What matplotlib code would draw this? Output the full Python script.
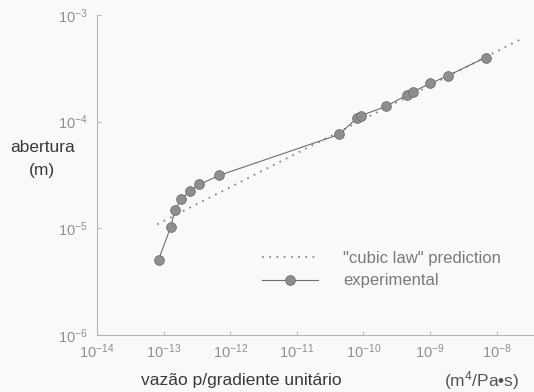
import matplotlib
matplotlib.use("Agg")
import matplotlib.pyplot as plt
from matplotlib.ticker import FixedLocator, NullLocator

plt.rcParams["font.family"] = ["Liberation Sans", "DejaVu Sans"]
plt.rcParams["mathtext.fontset"] = "custom"
plt.rcParams["mathtext.rm"] = "Liberation Sans"
plt.rcParams["mathtext.it"] = "Liberation Sans"

# experimental points (flow per unit gradient, aperture)
exp_flow = [8.4e-14, 1.28e-13, 1.47e-13, 1.83e-13, 2.48e-13, 3.45e-13, 6.8e-13,
            4.35e-11, 7.9e-11, 9.2e-11, 2.19e-10, 4.48e-10, 5.5e-10, 1.01e-9,
            1.83e-9, 6.8e-9]
exp_aperture = [5.1e-6, 1.03e-5, 1.47e-5, 1.87e-5, 2.25e-5, 2.58e-5, 3.13e-5,
                7.6e-5, 1.08e-4, 1.14e-4, 1.39e-4, 1.78e-4, 1.91e-4, 2.28e-4,
                2.69e-4, 3.99e-4]

# cubic law prediction endpoints
cubic_flow = [8.0e-14, 2.38e-8]
cubic_aperture = [1.09e-5, 6.0e-4]

x_ticks = [1e-14, 1e-13, 1e-12, 1e-11, 1e-10, 1e-9, 1e-8]
x_labels = [r"$10^{-14}$", r"$10^{-13}$", r"$10^{-12}$", r"$10^{-11}$",
            r"$10^{-10}$", r"$10^{-9}$", r"$10^{-8}$"]
y_ticks = [1e-6, 1e-5, 1e-4, 1e-3]
y_labels = [r"$10^{-6}$", r"$10^{-5}$", r"$10^{-4}$", r"$10^{-3}$"]

W, H = 534, 392
fig = plt.figure(figsize=(W / 100, H / 100), dpi=100)
fig.patch.set_facecolor("#f9f9f8")
ax = fig.add_axes([97 / W, 1 - 335 / H, 1 - 97 / W, 320 / H])
ax.set_facecolor("#f9f9f8")

ax.set_xscale("log")
ax.set_yscale("log")
ax.set_xlim(1e-14, 10 ** -7.44)
ax.set_ylim(1e-6, 1e-3)

ax.plot(cubic_flow, cubic_aperture, linestyle=(0, (1, 3)), color="#8a8a8a",
        lw=1.3, label='"cubic law" prediction')
ax.plot(exp_flow, exp_aperture, "-o", color="#6e6e6e", lw=0.8,
        markersize=7, markerfacecolor="#8e8e8e", markeredgecolor="#707070",
        markeredgewidth=0.6, label="experimental")

for s in ["top", "right"]:
    ax.spines[s].set_visible(False)
for s in ["left", "bottom"]:
    ax.spines[s].set_color("#b5b5b5")
    ax.spines[s].set_linewidth(0.8)

ax.xaxis.set_major_locator(FixedLocator(x_ticks))
ax.yaxis.set_major_locator(FixedLocator(y_ticks))
ax.xaxis.set_minor_locator(NullLocator())
ax.yaxis.set_minor_locator(NullLocator())
ax.set_xticklabels(x_labels)
ax.set_yticklabels(y_labels)
ax.tick_params(axis="both", direction="in", length=3, color="#bdbdbd",
               labelcolor="#909090", labelsize=10.5)
ax.tick_params(axis="x", pad=5)
ax.tick_params(axis="y", pad=7)

fig.text(43 / W, 1 - 147 / H, "abertura", ha="center", va="center",
         fontsize=12.5, color="#3a3a3a")
fig.text(42 / W, 1 - 170 / H, "(m)", ha="center", va="center",
         fontsize=12.5, color="#3a3a3a")
fig.text(241 / W, 1 - 381 / H, "vazão p/gradiente unitário", ha="center",
         va="center", fontsize=12.5, color="#3a3a3a")
fig.text(519 / W, 1 - 381 / H, r"(m$^4$/Pa•s)", ha="right", va="center",
         fontsize=12.5, color="#555555")

leg = ax.legend(loc="upper left", bbox_to_anchor=(262 / W, 1 - 251 / H),
                bbox_transform=fig.transFigure, frameon=False, fontsize=12,
                borderpad=0, borderaxespad=0, handlelength=3.35,
                handletextpad=1.5, labelspacing=0.45, numpoints=1)
for t in leg.get_texts():
    t.set_color("#7a7a7a")

fig.savefig("out.png", dpi=100, facecolor=fig.get_facecolor())
